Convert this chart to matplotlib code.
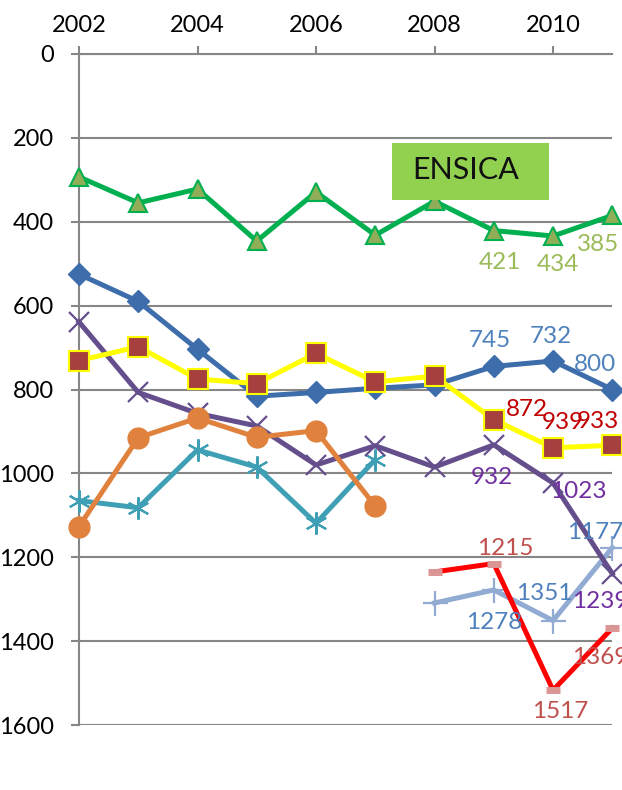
import matplotlib
matplotlib.use("Agg")
import matplotlib.pyplot as plt
from matplotlib.patches import Rectangle

plt.rcParams['font.family'] = ['Lato', 'DejaVu Sans']

years_a = [2002, 2003, 2004, 2005, 2006, 2007, 2008, 2009, 2010, 2011]
years_b = [2002, 2003, 2004, 2005, 2006, 2007]
years_c = [2008, 2009, 2010, 2011]

ensica = [293, 355, 322, 446, 329, 432, 351, 421, 434, 385]
blue = [525, 590, 704, 816, 807, 797, 789, 745, 732, 800]
yellow = [731, 698, 775, 786, 714, 782, 768, 872, 939, 933]
purple = [639, 807, 857, 887, 980, 934, 985, 932, 1023, 1239]
orange = [1127, 915, 868, 914, 898, 1078]
teal = [1065, 1082, 944, 985, 1119, 967]
lightblue = [1309, 1278, 1351, 1177]
red = [1235, 1215, 1517, 1369]

yticks = [0, 200, 400, 600, 800, 1000, 1200, 1400, 1600]
xticks = [2002, 2004, 2006, 2008, 2010]

fig = plt.figure(figsize=(6.22, 7.9), dpi=100)
ax = fig.add_axes([79/622, 1-725/790, (612.3-79)/622, (725-54)/790])

lw = 3.6
ax.plot(years_a, ensica, color='#00B050', lw=lw, marker='^', ms=13,
        mfc='#8FAE57', mec='#00B050', mew=1.5, zorder=5, clip_on=False)
ax.plot(years_a, blue, color='#3D6DAA', lw=lw, marker='D', ms=11,
        mfc='#3D6DAA', mec='#3D6DAA', zorder=5, clip_on=False)
ax.plot(years_a, yellow, color='#FFFF00', lw=lw, marker='s', ms=15,
        mfc='#A5403E', mec='#FFFF00', mew=1.5, zorder=6, clip_on=False)
ax.plot(years_a, purple, color='#654E8C', lw=lw, marker='x', ms=15,
        mec='#654E8C', mew=1.6, zorder=4, clip_on=False)
ax.plot(years_b, orange, color='#E0823D', lw=lw, marker='o', ms=15,
        mfc='#E0823D', mec='#E0823D', zorder=4, clip_on=False)
ax.plot(years_b, teal, color='#3FA0B5', lw=lw, marker=(6, 2, 0), ms=16,
        mec='#3FA0B5', mew=1.5, zorder=3, clip_on=False)
ax.plot(years_c, lightblue, color='#92ABD3', lw=lw, marker='+', ms=18,
        mec='#92ABD3', mew=1.6, zorder=3, clip_on=False)
ax.plot(years_c, red, color='#FF0000', lw=lw, marker='_', ms=10,
        mec='#D99694', mew=5, zorder=3, clip_on=False)

fs = 17.5
def lab(x, y, txt, dx, dy, color):
    ax.annotate(txt, (x, y), xytext=(dx, dy), textcoords='offset pixels',
                ha='center', va='center', fontsize=fs, color=color,
                annotation_clip=False, zorder=10)

g = '#9BBB59'
for x, y, dx, dy in [(2009, 421, 6, -32), (2010, 434, 5, -28), (2011, 385, -14, -29)]:
    lab(x, y, str(y), dx, dy, g)
b = '#4F81BD'
for x, y, dx, dy in [(2009, 745, -4, 26), (2010, 732, -2, 24), (2011, 800, -17, 25)]:
    lab(x, y, str(y), dx, dy, b)
r = '#C00000'
for x, y, dx, dy in [(2009, 872, 33, 10), (2010, 939, 10, 25), (2011, 933, -14, 24)]:
    lab(x, y, str(y), dx, dy, r)
p = '#7030A0'
for x, y, dx, dy in [(2009, 932, -2, -33), (2010, 1023, 25, -8), (2011, 1239, -12, -28)]:
    lab(x, y, str(y), dx, dy, p)
for x, y, dx, dy in [(2009, 1278, 0, -33), (2010, 1351, -9, 27), (2011, 1177, -17, 15)]:
    lab(x, y, str(y), dx, dy, b)
rr = '#C0504D'
for x, y, dx, dy in [(2009, 1215, 12, 15), (2010, 1517, 7, -21), (2011, 1369, -12, -29)]:
    lab(x, y, str(y), dx, dy, rr)

ax.add_patch(Rectangle((2007.285, 212), 2.65, 136, facecolor='#92D050',
                       edgecolor='none', zorder=9))
ax.text(2007.63, 276, 'ENSICA', fontsize=22, color='#111111', va='center', ha='left', zorder=11)

ax.set_xlim(2002, 2011)
ax.set_ylim(1600, 0)
ax.set_yticks(yticks)
ax.set_xticks(xticks)
ax.xaxis.tick_top()
ax.tick_params(axis='both', direction='out', length=5.8, width=1.5, color='#868686',
               labelsize=17)
ax.tick_params(axis='y', pad=12)
ax.tick_params(axis='x', pad=7)
ax.grid(axis='y', color='#868686', lw=1.5, zorder=0)
for s in ['right', 'bottom']:
    ax.spines[s].set_visible(False)
for s in ['left', 'top']:
    ax.spines[s].set_color('#868686')
    ax.spines[s].set_linewidth(1.5)
ax.set_axisbelow(True)

fig.savefig('out.png', dpi=100)
